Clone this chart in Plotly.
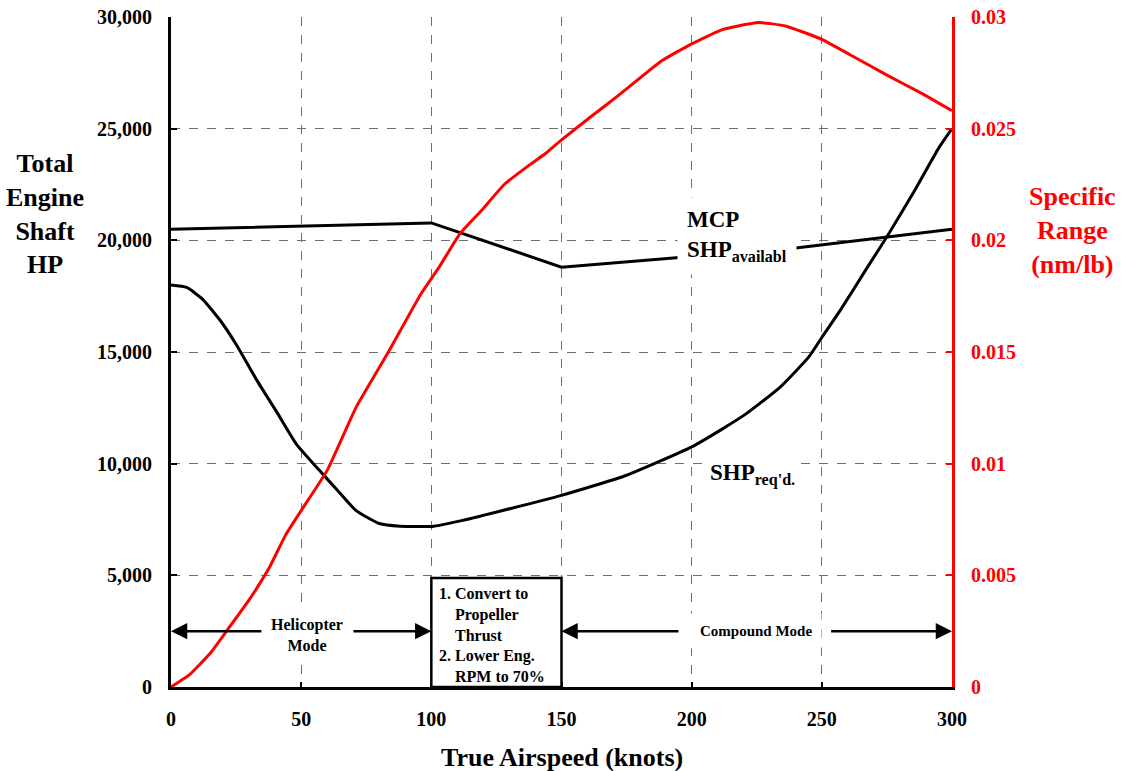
import plotly.graph_objects as go

# Airspeed / power / specific-range data (knots, shaft HP, nm/lb)
sr_knots = [0, 7, 15, 21, 30, 38, 44, 50, 60, 71, 83, 96, 103, 111, 119, 128,
            138, 144, 150, 162, 172, 188, 200, 211, 216, 226, 236, 250, 261,
            275, 288, 300]
sr_values = [0, 0.00054, 0.0015, 0.00245, 0.0039, 0.0054, 0.0068, 0.0079,
             0.0097, 0.0125, 0.0149, 0.0176, 0.0188, 0.0203, 0.0213, 0.0225,
             0.0234, 0.0239, 0.0245, 0.0256, 0.0265, 0.0280, 0.0288, 0.0294,
             0.02955, 0.02975, 0.0296, 0.0290, 0.0283, 0.0274, 0.0266, 0.0258]

req_knots = [0, 6, 12, 19, 25, 33, 41, 48, 57, 64, 71, 80, 88, 101, 112, 150,
             175, 200, 212, 221, 234, 245, 250, 257, 267, 276, 286, 295, 300]
req_shp = [18000, 17890, 17380, 16400, 15350, 13730, 12240, 10900, 9700, 8800,
           7910, 7320, 7200, 7200, 7460, 8580, 9480, 10750, 11570, 12240,
           13430, 14780, 15650, 16850, 18700, 20350, 22300, 24150, 25000]

avail_knots = [0, 100, 150, 195, 240, 300]
avail_shp = [20500, 20780, 18800, 19220, 19660, 20500]

x_ticks = [0, 50, 100, 150, 200, 250, 300]
y_ticks = [0, 5000, 10000, 15000, 20000, 25000, 30000]
y_tick_text = ["0", "5,000", "10,000", "15,000", "20,000", "25,000", "30,000"]
y2_ticks = [0, 0.005, 0.01, 0.015, 0.02, 0.025, 0.03]
y2_tick_text = ["0", "0.005", "0.01", "0.015", "0.02", "0.025", "0.03"]

FONT = "Liberation Serif, Times New Roman, serif"
RED = "#ff0000"
GRID = "#6e6e6e"

fig = go.Figure()

fig.add_trace(go.Scatter(
    x=avail_knots, y=avail_shp, mode="lines",
    line=dict(color="black", width=3), showlegend=False, hoverinfo="skip"))
fig.add_trace(go.Scatter(
    x=req_knots, y=req_shp, mode="lines",
    line=dict(color="black", width=3, shape="spline", smoothing=0.5),
    showlegend=False, hoverinfo="skip"))
fig.add_trace(go.Scatter(
    x=sr_knots, y=sr_values, mode="lines", yaxis="y2",
    line=dict(color=RED, width=3, shape="spline", smoothing=0.4),
    showlegend=False, hoverinfo="skip"))

tick_font = dict(family=FONT, size=20, color="black", weight="bold")

fig.update_layout(
    template="none",
    width=1124, height=771,
    margin=dict(l=171, r=172, t=17, b=84),
    paper_bgcolor="white", plot_bgcolor="white",
    font=dict(family=FONT),
    xaxis=dict(
        range=[0, 300], tickvals=x_ticks, ticks="inside", ticklen=5,
        tickwidth=2, tickcolor="black", showline=True, linecolor="black",
        linewidth=3, showgrid=True, gridcolor=GRID, griddash="dash",
        gridwidth=1, zeroline=False, tickfont=tick_font,
        ticklabelstandoff=12, automargin=False),
    yaxis=dict(
        range=[0, 30000], tickvals=y_ticks, ticktext=y_tick_text,
        ticks="inside", ticklen=6, tickwidth=2, tickcolor="black",
        showline=True, linecolor="black", linewidth=3, showgrid=True,
        gridcolor=GRID, griddash="dash", gridwidth=1, zeroline=False,
        tickfont=tick_font, ticklabelstandoff=12, automargin=False),
    yaxis2=dict(
        range=[0, 0.03], overlaying="y", side="right", tickvals=y2_ticks,
        ticktext=y2_tick_text, ticks="inside", ticklen=6, tickwidth=2,
        tickcolor=RED, showline=True, linecolor=RED, linewidth=3,
        showgrid=False, zeroline=False,
        tickfont=dict(family=FONT, size=20, color=RED, weight="bold"),
        ticklabelstandoff=12, automargin=False),
)

# Mode-transition box
fig.add_shape(type="rect", xref="x", yref="y", x0=100, x1=150, y0=0, y1=4880,
              line=dict(color="black", width=2.5), fillcolor="white",
              layer="above")

ann_font = dict(family=FONT, color="black", weight="bold")

fig.add_annotation(
    x=102, y=2347, xref="x", yref="y", xanchor="left", yanchor="middle",
    align="left", showarrow=False, font=dict(ann_font, size=16),
    text=("1. Convert to<br>\u00a0\u00a0\u00a0\u00a0Propeller<br>"
          "\u00a0\u00a0\u00a0\u00a0Thrust<br>2. Lower Eng.<br>"
          "\u00a0\u00a0\u00a0\u00a0RPM to 70%"))

# Flight-mode labels
fig.add_annotation(
    x=52.2, y=2350, xref="x", yref="y", xanchor="center", yanchor="middle",
    showarrow=False, text="Helicopter<br>Mode", font=dict(ann_font, size=16),
    bgcolor="white", borderpad=7)
fig.add_annotation(
    x=224.7, y=2500, xref="x", yref="y", xanchor="center", yanchor="middle",
    showarrow=False, text="Compound Mode", font=dict(ann_font, size=15),
    bgcolor="white", borderpad=9)

# Mode arrows
for head, tail in [(0, 35.3), (100, 69.5), (150, 195.5), (300, 253)]:
    fig.add_annotation(
        x=head, y=2500, ax=tail, ay=2500, xref="x", yref="y",
        axref="x", ayref="y", text="", showarrow=True, arrowhead=2,
        arrowsize=1.3, arrowwidth=2.5, arrowcolor="black")

# Curve labels
fig.add_annotation(
    x=194.5, y=20200, xref="x", yref="y", xanchor="left", yanchor="middle",
    align="left", showarrow=False, bgcolor="white", borderpad=9,
    text="MCP<br>SHP<sub>availabl</sub>", font=dict(ann_font, size=23))
fig.add_annotation(
    x=205, y=9500, xref="x", yref="y", xanchor="left", yanchor="middle",
    align="left", showarrow=False, bgcolor="white", borderpad=4,
    text="SHP<sub>req'd.</sub>", font=dict(ann_font, size=23))

# Axis titles
fig.add_annotation(
    x=-0.1613, y=0.706, xref="paper", yref="paper", xanchor="center",
    yanchor="middle", showarrow=False,
    text="Total<br>Engine<br>Shaft<br>HP", font=dict(ann_font, size=26))
fig.add_annotation(
    x=1.1537, y=0.682, xref="paper", yref="paper", xanchor="center",
    yanchor="middle", showarrow=False,
    text="Specific<br>Range<br>(nm/lb)",
    font=dict(family=FONT, color=RED, weight="bold", size=26))
fig.add_annotation(
    x=0.5, y=-0.1045, xref="paper", yref="paper", xanchor="center",
    yanchor="middle", showarrow=False,
    text="True Airspeed (knots)", font=dict(ann_font, size=26))

fig.write_html("out.html")
